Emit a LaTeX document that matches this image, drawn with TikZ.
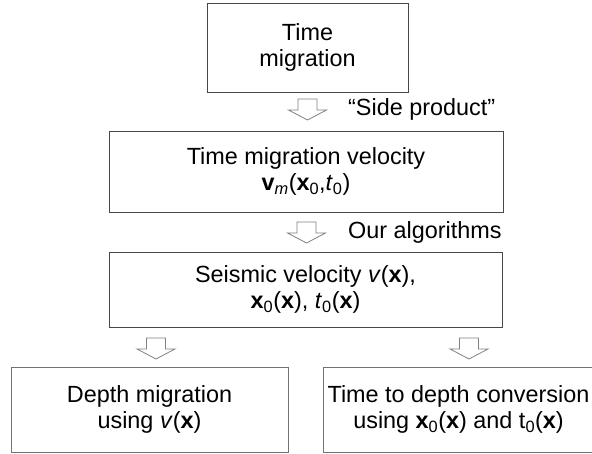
\documentclass[tikz,border=0pt]{standalone}
\usepackage{fontspec}
\setmainfont{Liberation Sans}
\newcommand{\bx}{\textbf{x}}
\newcommand{\sub}[1]{\textsubscript{#1}}
\tikzset{
  flowbox/.style 2 args = {draw=black!72,line width=0.9pt,minimum width=#1,minimum height=#2,
                           inner sep=0pt,align=center,font=\fontsize{23.4}{25.5}\selectfont},
  lowbox/.style 2 args  = {flowbox={#1}{#2},draw=black!55},
  blockarr/.style       = {draw=black!50,line width=0.8pt,fill=white,line join=miter},
  sidenote/.style       = {anchor=base west,inner sep=0pt,font=\fontsize{23.4}{25.5}\selectfont}
}
\newcommand{\blockdown}[3]{%
  \coordinate (#1) at (#2,#3);
  \draw[blockarr] (#1) ++(-9.5,0) -- ++(19,0) -- ++(0,11) -- ++(9.5,0)
    -- ++(-19,10) -- ++(-19,-10) -- ++(9.5,0) -- cycle;
}

\begin{document}
\begin{tikzpicture}[x=1pt,y=-1pt]
  \useasboundingbox (0,0) rectangle (592,453);
  \clip (0,0) rectangle (592,453);
  \node[flowbox={201pt}{89pt}] (timemig) at (307.5,47.5) {Time\\migration};
  \node[flowbox={394pt}{81pt}] (migvel) at (306,171.5)
    {Time migration velocity\\\textbf{v}\sub{\textit{m}}(\bx\sub{0},\textit{t}\sub{0})};
  \node[flowbox={393pt}{75pt}] (seisvel) at (305.5,289.5)
    {Seismic velocity \textit{v}(\bx),\\\bx\sub{0}(\bx), \textit{t}\sub{0}(\bx)};
  \node[lowbox={277pt}{85pt}] (depthmig) at (149.5,409.5)
    {Depth migration\\using \textit{v}(\bx)};
  \node[lowbox={271pt}{85pt}] (tdconv) at (458.5,409.5)
    {Time to depth conversion\\using \bx\sub{0}(\bx) and t\sub{0}(\bx)};
  % hollow arrows between the stages
  \blockdown{arrA}{307.5}{99}
  \blockdown{arrB}{306.5}{222}
  \blockdown{arrC}{156}{338}
  \blockdown{arrD}{469}{338}
  \node[sidenote] (sideprod) at (348,115) {``Side product''};
  \node[sidenote] (ouralg) at (348,238) {Our algorithms};
\end{tikzpicture}
\end{document}
